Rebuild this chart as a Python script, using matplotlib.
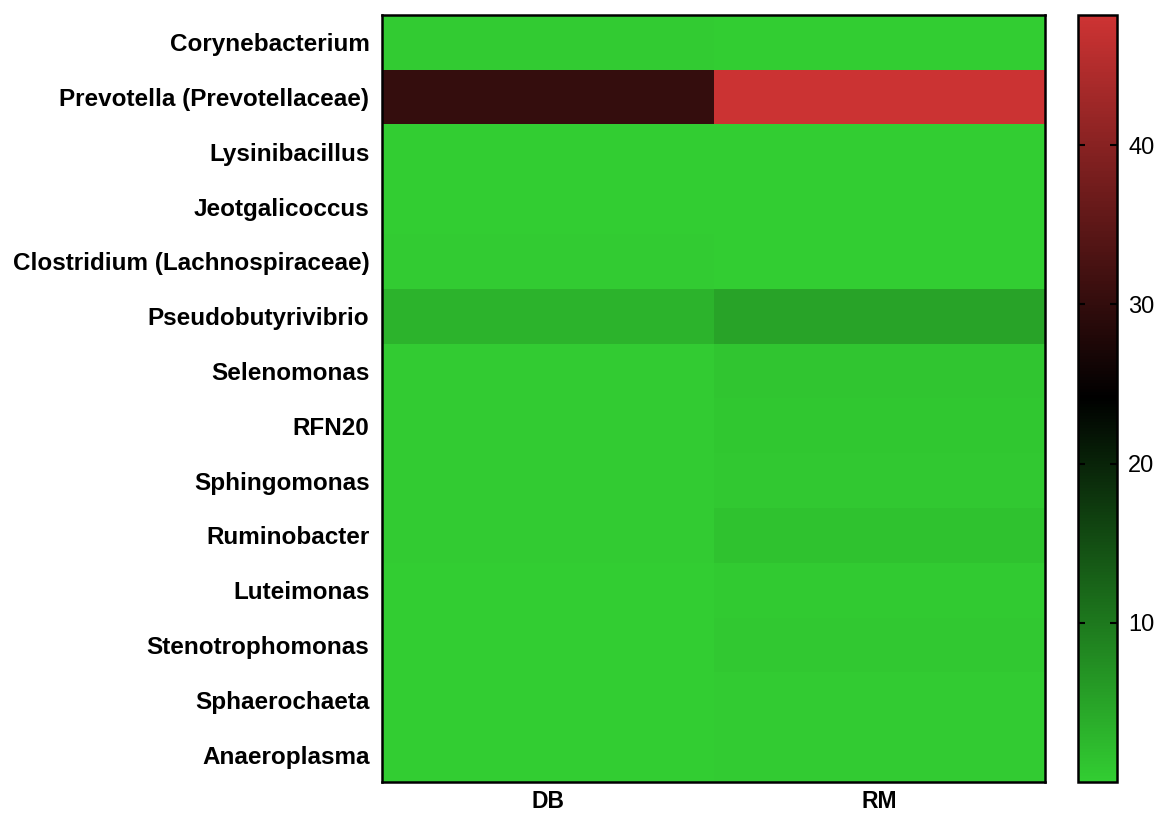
import matplotlib.pyplot as plt
import numpy as np
from matplotlib.colors import LinearSegmentedColormap

plt.rcParams['font.family'] = ['Liberation Sans', 'DejaVu Sans']

genera = [
    "Corynebacterium",
    "Prevotella (Prevotellaceae)",
    "Lysinibacillus",
    "Jeotgalicoccus",
    "Clostridium (Lachnospiraceae)",
    "Pseudobutyrivibrio",
    "Selenomonas",
    "RFN20",
    "Sphingomonas",
    "Ruminobacter",
    "Luteimonas",
    "Stenotrophomonas",
    "Sphaerochaeta",
    "Anaeroplasma",
]
groups = ["DB", "RM"]

# relative abundance (%) per group
db_values = [0.2, 30.2, 0.1, 0.1, 0.2, 3.2, 0.3, 0.2, 0.2, 0.3, 0.1, 0.1, 0.1, 0.1]
rm_values = [0.1, 48.0, 0.1, 0.1, 0.1, 5.0, 1.0, 0.8, 0.6, 1.5, 0.4, 0.7, 0.3, 0.2]

data = np.column_stack([db_values, rm_values])

cmap = LinearSegmentedColormap.from_list(
    "green_black_red", ["#32CD32", "#000000", "#CD3333"])

fig = plt.figure(figsize=(11.6, 8.18), dpi=100)
ax = fig.add_axes([0.3293, 0.044, 0.5717, 0.938])
cax = fig.add_axes([0.9293, 0.044, 0.0336, 0.938])

mesh = ax.pcolormesh(data, cmap=cmap, vmin=0, vmax=48.2)
ax.set_xlim(0, 2)
ax.set_ylim(len(genera), 0)

ax.set_yticks(np.arange(len(genera)) + 0.5)
ax.set_yticklabels(genera, fontsize=17.5, fontweight="bold")
ax.set_xticks(np.arange(len(groups)) + 0.5)
ax.set_xticklabels(groups, fontsize=16.5, fontweight="bold")
ax.tick_params(axis="y", length=0, pad=9)
ax.tick_params(axis="x", length=0, pad=6)
for spine in ax.spines.values():
    spine.set_linewidth(1.8)

cbar = fig.colorbar(mesh, cax=cax)
cbar.set_ticks([10, 20, 30, 40])
cbar.outline.set_linewidth(1.8)
cax.tick_params(direction="in", left=True, right=True, length=5, width=1.5,
                labelsize=17, pad=8)

fig.savefig("out.png", dpi=100)
